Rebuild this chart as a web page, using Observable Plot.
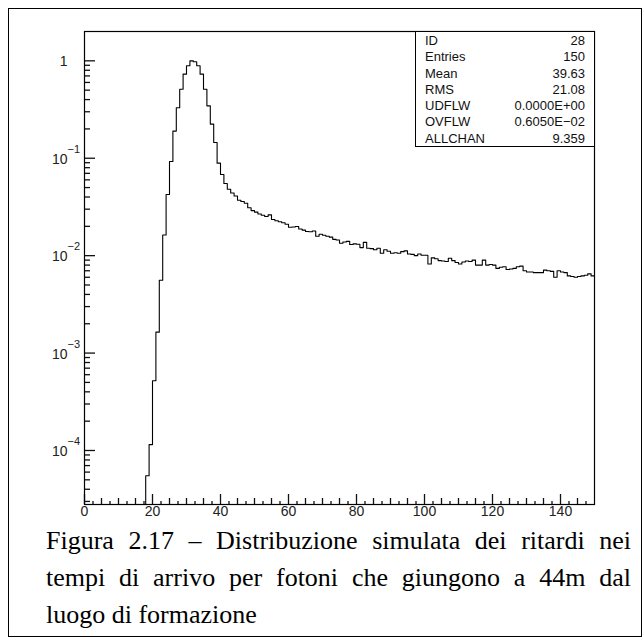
<!DOCTYPE html>
<html><head><meta charset="utf-8">
<script src="https://cdn.jsdelivr.net/npm/d3@7"></script>
<script src="https://cdn.jsdelivr.net/npm/@observablehq/plot@0.6"></script>
<style>
html,body{margin:0;padding:0;background:#fff;}
#page{position:relative;width:643px;height:637px;overflow:hidden;background:#fff;}
#border{position:absolute;left:8px;top:8px;width:634px;height:629px;border:1px solid #000;box-sizing:border-box;}
#chart{position:absolute;left:0;top:0;}
#stats{position:absolute;left:415px;top:31px;width:180px;height:116px;border:1px solid #000;box-sizing:border-box;background:#fff;font:13px "Liberation Sans",Arial,sans-serif;color:#111;padding-top:1px;}
#stats .row{display:flex;justify-content:space-between;padding:0 9px 0 9px;line-height:16.3px;height:16.3px;}
#caption{position:absolute;left:46px;width:585px;top:522px;font:26px "Liberation Serif","Times New Roman",serif;line-height:37px;color:#000;}
#caption .j{text-align:justify;text-align-last:justify;white-space:nowrap;}
#caption .l{text-align:left;}
</style>
</head><body>
<div id="page">
  <div id="border"></div>
  <div id="chart"></div>
  <div id="stats"></div>
  <div id="caption"></div>
</div>
<script>
// Histogram contents, one value per unit-wide bin, bins 18 .. 149 (all others empty)
const firstBin = 18;
const counts = [
  5.5e-5, 1.15e-4,
  5.2e-4, 1.64e-3, 5.6e-3, 1.63e-2, 0.0424, 0.0925, 0.19, 0.33, 0.51, 0.73,
  0.89, 1.0, 0.98, 0.89, 0.73, 0.51, 0.345, 0.224, 0.145, 0.089,
  0.068, 0.055, 0.048, 0.044, 0.041, 0.037, 0.036, 0.0345, 0.031, 0.029,
  0.028, 0.0268, 0.026, 0.0252, 0.0262, 0.0235, 0.0228, 0.0223, 0.0218, 0.021,
  0.0196, 0.0197, 0.0199, 0.0188, 0.0183, 0.0177, 0.0176, 0.0179, 0.0158, 0.0166,
  0.0162, 0.0158, 0.0155, 0.0147, 0.0145, 0.0134, 0.0138, 0.0140, 0.0130, 0.0132,
  0.0131, 0.0121, 0.0137, 0.0119, 0.0118, 0.0115, 0.0119, 0.0106, 0.0115, 0.0111,
  0.0106, 0.0107, 0.0106, 0.0110, 0.0112, 0.0104, 0.0103, 0.0100, 0.0104, 0.0101,
  0.0101, 0.0082, 0.0095, 0.0093, 0.0089, 0.0088, 0.0087, 0.0094, 0.0089, 0.0085,
  0.0082, 0.0086, 0.0088, 0.0087, 0.0090, 0.0080, 0.0080, 0.0090, 0.0080, 0.0081,
  0.0080, 0.0074, 0.0076, 0.0077, 0.0072, 0.0073, 0.0074, 0.0077, 0.0078, 0.0070,
  0.0068, 0.0068, 0.0067, 0.0067, 0.0067, 0.0071, 0.0070, 0.0069, 0.0060, 0.0070,
  0.0068, 0.0067, 0.0062, 0.0061, 0.0060, 0.0061, 0.0062, 0.0063, 0.0065, 0.0062
];
const xMin = 0, xMax = 150;
const yMin = 2.79e-5, yMax = 2.0;

// Axis ticks and labels
const xLabelTicks = [0, 20, 40, 60, 80, 100, 120, 140];
const xMidTicks = [5,10,15,25,30,35,45,50,55,65,70,75,85,90,95,105,110,115,125,130,135,145];
const xSmallTicks = [2.5,7.5,12.5,17.5,22.5,27.5,32.5,37.5,42.5,47.5,52.5,57.5,62.5,67.5,72.5,77.5,82.5,87.5,92.5,97.5,102.5,107.5,112.5,117.5,122.5,127.5,132.5,137.5,142.5,147.5];
const yDecades = [1e-4, 1e-3, 1e-2, 1e-1, 1];
const yDecadeBase = ["10", "10", "10", "10", "1"];
const yDecadeExp = ["\u22124", "\u22123", "\u22122", "\u22121", ""];
const yMinorTicks = [3e-5,4e-5,5e-5,6e-5,7e-5,8e-5,9e-5,
  2e-4,3e-4,4e-4,5e-4,6e-4,7e-4,8e-4,9e-4,
  2e-3,3e-3,4e-3,5e-3,6e-3,7e-3,8e-3,9e-3,
  2e-2,3e-2,4e-2,5e-2,6e-2,7e-2,8e-2,9e-2,
  0.2,0.3,0.4,0.5,0.6,0.7,0.8,0.9];

// Statistics box
const statLabels = ["ID", "Entries", "Mean", "RMS", "UDFLW", "OVFLW", "ALLCHAN"];
const statValues = ["28", "150", "39.63", "21.08", "0.0000E+00", "0.6050E\u221202", "9.359"];

const captionLines = [
  "Figura 2.17 \u2013 Distribuzione simulata dei ritardi nei",
  "tempi di arrivo per fotoni che giungono a 44m dal",
  "luogo di formazione"
];

// Build step outline
const pts = [{x: firstBin, y: 1e-7}];
counts.forEach((c, i) => pts.push({x: firstBin + i, y: c}));
pts.push({x: firstBin + counts.length, y: counts[counts.length - 1]});

const W = 643, H = 530, mL = 84, mR = 49, mT = 31, mB = 26;
const innerW = W - mL - mR, innerH = H - mT - mB;
const pxPerDecade = innerH / Math.log10(yMax / yMin);
const noLabel = () => "";
// inward tick marks on the bottom axis
const xTick = (data, len) => Plot.ruleX(data, {x: d => d, y1: yMin, y2: yMin * Math.pow(10, len / pxPerDecade), stroke: "#111", strokeWidth: 1.3});
// inward tick marks on the left axis: an axis shifted right by its own tick length
const yTick = (data, len) => Plot.axisY({ticks: data, anchor: "left", tickSize: len, tickPadding: 0, dx: len, tickFormat: noLabel, label: null, stroke: "#111", strokeWidth: 1.3});
const labelFont = '"Liberation Sans", Arial, sans-serif';

const plot = Plot.plot({
  width: W, height: H,
  marginLeft: mL, marginRight: mR, marginTop: mT, marginBottom: mB,
  x: {domain: [xMin, xMax], axis: null},
  y: {type: "log", domain: [yMin, yMax], axis: null},
  style: {fontFamily: labelFont, fontSize: "14px", color: "#222", background: "transparent", overflow: "visible"},
  marks: [
    xTick(xSmallTicks, 3),
    xTick(xMidTicks, 6),
    xTick(xLabelTicks, 10),
    yTick(yMinorTicks, 6),
    yTick(yDecades, 11),
    Plot.text(xLabelTicks, {x: d => d, frameAnchor: "bottom", text: d => String(d), dy: 11, fontSize: 14, fill: "#222"}),
    Plot.text(yDecades, {y: d => d, frameAnchor: "left", text: (d, i) => yDecadeBase[i], textAnchor: "end", dx: -17, dy: 1, fontSize: 14, fill: "#222"}),
    Plot.text(yDecades, {y: d => d, frameAnchor: "left", text: (d, i) => yDecadeExp[i], textAnchor: "start", dx: -17, dy: -9, fontSize: 11, fill: "#222"}),
    Plot.line(pts, {x: "x", y: "y", curve: "step-after", stroke: "#000", strokeWidth: 1.1, clip: true}),
    Plot.frame({stroke: "#000", strokeWidth: 1.2})
  ]
});
document.getElementById("chart").appendChild(plot);

const stats = d3.select("#stats");
statLabels.forEach((lab, i) => {
  const row = stats.append("div").attr("class", "row");
  row.append("span").text(lab);
  row.append("span").text(statValues[i]);
});
const cap = d3.select("#caption");
captionLines.forEach((t, i) => {
  cap.append("div").attr("class", i < captionLines.length - 1 ? "j" : "l").text(t);
});
</script>
</body></html>
